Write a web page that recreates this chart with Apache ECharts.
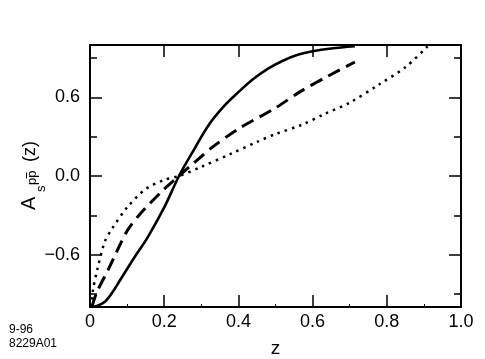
<!DOCTYPE html>
<html>
<head>
<meta charset="utf-8">
<script src="https://cdn.jsdelivr.net/npm/echarts@6/dist/echarts.min.js"></script>
<style>
html,body{margin:0;padding:0;background:#fff;}
#c{width:485px;height:359px;}
</style>
</head>
<body>
<div id="c"></div>
<script>
// x-axis ticks / labels
var xTicks = [0, 0.2, 0.4, 0.6, 0.8, 1.0];
var xTickLabels = ['0', '0.2', '0.4', '0.6', '0.8', '1.0'];
var yMajor = [-0.6, 0, 0.6];
var yMajorLabels = ['\u22120.6', '0.0', '0.6'];
var yMinor = [-0.9, -0.3, 0.3, 0.9];

// solid curve
var solidZ = [0.005, 0.02, 0.04, 0.06, 0.08, 0.12, 0.155, 0.2, 0.24, 0.28, 0.32, 0.36, 0.40, 0.44, 0.48, 0.52, 0.56, 0.60, 0.65, 0.714];
var solidA = [-1.0, -0.99, -0.96, -0.89, -0.80, -0.62, -0.47, -0.24, 0.0, 0.2, 0.39, 0.53, 0.64, 0.74, 0.82, 0.88, 0.925, 0.952, 0.973, 0.99];
// dashed curve
var dashZ = [0.005, 0.018, 0.05, 0.1, 0.135, 0.2, 0.24, 0.28, 0.33, 0.4, 0.5, 0.57, 0.64, 0.714];
var dashA = [-1.0, -0.89, -0.71, -0.42, -0.29, -0.1, 0.0, 0.1, 0.22, 0.36, 0.52, 0.65, 0.76, 0.87];
// dotted curve
var dotZ = [0.003, 0.008, 0.02, 0.04, 0.06, 0.1, 0.15, 0.2, 0.24, 0.3, 0.38, 0.45, 0.5, 0.57, 0.63, 0.7, 0.78, 0.85, 0.91];
var dotA = [-1.0, -0.87, -0.71, -0.5, -0.4, -0.24, -0.1, -0.03, 0.0, 0.07, 0.17, 0.26, 0.32, 0.39, 0.47, 0.56, 0.7, 0.83, 0.99];

function pairs(xs, ys) { return xs.map(function (x, i) { return [x, ys[i]]; }); }

var FONT = 'Liberation Sans, Arial, Helvetica, sans-serif';
var chart = echarts.init(document.getElementById('c'), null, {renderer: 'canvas'});

function yAx(pos, vals, len, labels) {
  return {
    type: 'value', position: pos, min: -1, max: 1,
    axisLine: {show: true, onZero: false, lineStyle: {color: '#000', width: 2}},
    splitLine: {show: false},
    axisTick: {show: true, inside: true, length: len, customValues: vals, lineStyle: {color: '#000', width: 1.5}},
    axisLabel: labels ? {
      show: true, customValues: yMajor, fontSize: 18, color: '#000', fontFamily: FONT, margin: 10,
      formatter: function (v) { var i = yMajor.indexOf(Math.round(v * 10) / 10); return i >= 0 ? yMajorLabels[i] : ''; }
    } : {show: false}
  };
}

var option = {
  animation: false,
  backgroundColor: '#fff',
  grid: {left: 90, right: 24, top: 45, bottom: 52, containLabel: false, outerBoundsMode: 'none'},
  xAxis: [{
    type: 'value', position: 'bottom', min: 0, max: 1, interval: 0.2,
    name: 'z', nameLocation: 'middle', nameGap: 32,
    nameTextStyle: {fontSize: 19, color: '#000', fontFamily: FONT},
    axisLine: {show: true, onZero: false, lineStyle: {color: '#000', width: 2}},
    splitLine: {show: false},
    axisTick: {show: true, inside: true, length: 12, lineStyle: {color: '#000', width: 1.5}},
    minorTick: {show: true, splitNumber: 2, length: 3, lineStyle: {color: '#000', width: 1}},
    axisLabel: {
      fontSize: 18, color: '#000', fontFamily: FONT, margin: 6,
      formatter: function (v) { var i = xTicks.indexOf(Math.round(v * 10) / 10); return i >= 0 ? xTickLabels[i] : ''; }
    }
  }, {
    type: 'value', position: 'top', min: 0, max: 1, interval: 0.2,
    axisLine: {show: true, onZero: false, lineStyle: {color: '#000', width: 2}},
    splitLine: {show: false},
    axisTick: {show: true, inside: true, length: 12, lineStyle: {color: '#000', width: 1.5}},
    axisLabel: {show: false}
  }],
  yAxis: [
    yAx('left', yMajor, 12, true),
    yAx('left', yMinor, 7, false),
    yAx('right', yMajor, 12, false),
    yAx('right', yMinor, 7, false)
  ],
  series: [{
    type: 'line', data: pairs(solidZ, solidA), symbol: 'none', smooth: 0.35,
    lineStyle: {color: '#000', width: 2.6}
  }, {
    type: 'line', data: pairs(dashZ, dashA), symbol: 'none', smooth: 0.3,
    lineStyle: {color: '#000', width: 3, type: [13, 7]}
  }, {
    type: 'line', data: pairs(dotZ, dotA), symbol: 'none', smooth: 0.3,
    lineStyle: {color: '#000', width: 2.5, type: [2.5, 5]}
  }],
  graphic: [{
    type: 'group', x: 37, y: 212, rotation: Math.PI / 2,
    children: [
      {type: 'text', x: 2, y: -7.5, style: {text: 'A', fontSize: 20, fontFamily: FONT, fill: '#000', verticalAlign: 'middle', align: 'left'}},
      {type: 'text', x: 20, y: 4, style: {text: 's', fontSize: 13, fontFamily: FONT, fill: '#000', verticalAlign: 'middle', align: 'left'}},
      {type: 'text', x: 27, y: -5, style: {text: 'pp', fontSize: 13, fontFamily: FONT, fill: '#000', verticalAlign: 'middle', align: 'left'}},
      {type: 'line', shape: {x1: 33.5, y1: -10.5, x2: 39.5, y2: -10.5}, style: {stroke: '#000', lineWidth: 1}},
      {type: 'text', x: 50, y: -6.7, style: {text: '(z)', fontSize: 18, fontFamily: FONT, fill: '#000', verticalAlign: 'middle', align: 'left'}}
    ]
  }, {
    type: 'text', left: 9, top: 324, style: {text: '9-96', fontSize: 12, fontFamily: FONT, fill: '#000'}
  }, {
    type: 'text', left: 9, top: 338, style: {text: '8229A01', fontSize: 12, fontFamily: FONT, fill: '#000'}
  }]
};
chart.setOption(option);
</script>
</body>
</html>
